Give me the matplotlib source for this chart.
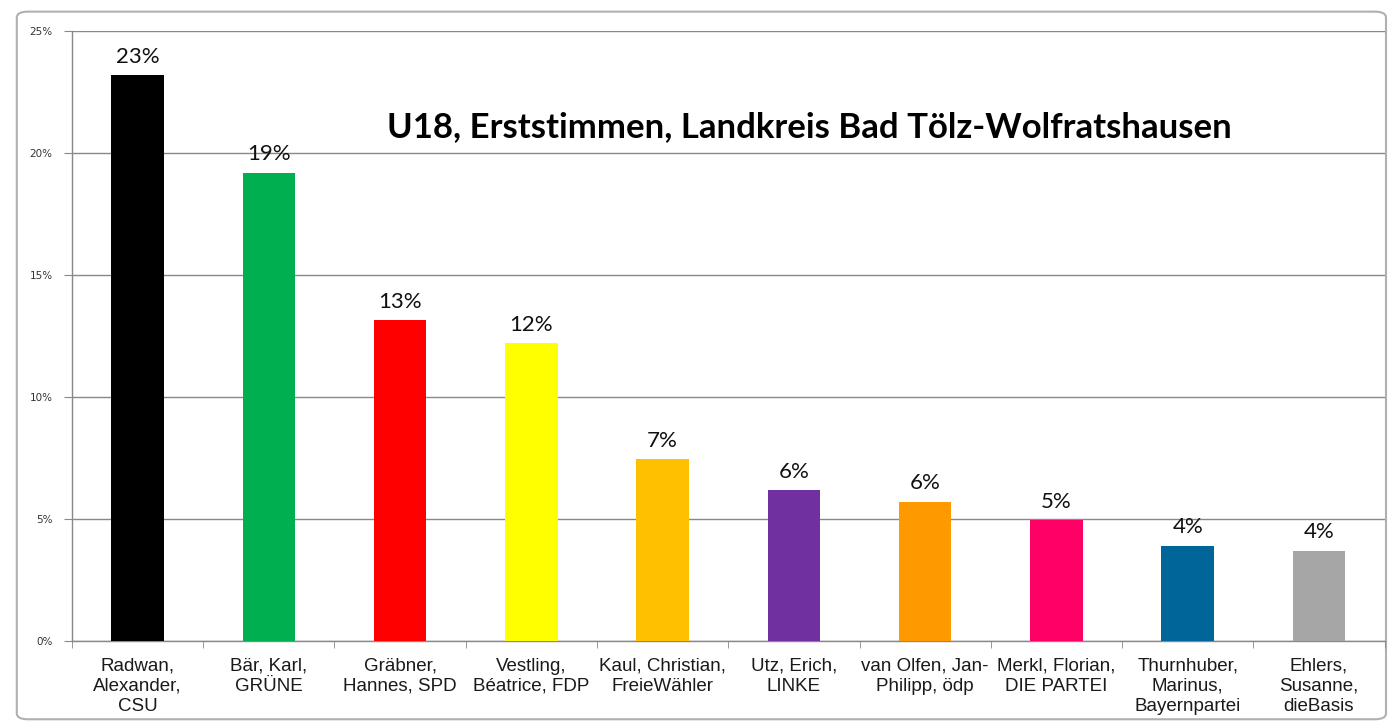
import matplotlib
matplotlib.use("Agg")

import matplotlib.pyplot as plt
import numpy as np
from matplotlib.patches import FancyBboxPatch
from matplotlib.ticker import FuncFormatter, FixedLocator

candidates = [
    "Radwan,\nAlexander,\nCSU",
    "Bär, Karl,\nGRÜNE",
    "Gräbner,\nHannes, SPD",
    "Vestling,\nBéatrice, FDP",
    "Kaul, Christian,\nFreieWähler",
    "Utz, Erich,\nLINKE",
    "van Olfen, Jan-\nPhilipp, ödp",
    "Merkl, Florian,\nDIE PARTEI",
    "Thurnhuber,\nMarinus,\nBayernpartei",
    "Ehlers,\nSusanne,\ndieBasis",
]
shares = [0.232, 0.192, 0.1315, 0.122, 0.0746, 0.0619, 0.057, 0.0496, 0.039, 0.0369]
colors = ["#000000", "#00b050", "#ff0000", "#ffff00", "#ffc000",
          "#7030a0", "#ff9900", "#ff0066", "#006699", "#a6a6a6"]
title = "U18, Erststimmen, Landkreis Bad Tölz-Wolfratshausen"

fig = plt.figure(figsize=(14, 7.28), dpi=100, facecolor="white")

# chart frame like the spreadsheet chart object
frame = FancyBboxPatch((0.012, 0.012), 0.978, 0.972,
                       boxstyle="round,pad=0,rounding_size=0.008",
                       transform=fig.transFigure, facecolor="white",
                       edgecolor="#b0b0b0", linewidth=1.5, zorder=-5)
fig.patches.append(frame)

ax = fig.add_axes([0.0514, 0.1195, 0.9376, 0.8375])
ax.set_facecolor("none")

x = np.arange(len(candidates))
ax.bar(x, shares, width=0.4, color=colors, zorder=3)

for xi, v in zip(x, shares):
    ax.text(xi, v + 0.0035, f"{round(v * 100):.0f}%", ha="center", va="bottom",
            fontsize=16, family="Lato", color="#111111")

ax.set_xlim(-0.5, len(candidates) - 0.5)
ax.set_ylim(0, 0.25)
ax.set_yticks(np.arange(0, 0.26, 0.05))
ax.yaxis.set_major_formatter(FuncFormatter(lambda v, p: f"{v * 100:.0f}%"))
ax.grid(axis="y", color="#888888", linewidth=1, zorder=0)

ax.set_xticks(x)
ax.set_xticklabels(candidates, fontsize=13.5, family="Liberation Sans",
                   color="#1a1a1a", linespacing=1.25)
ax.xaxis.set_minor_locator(FixedLocator(np.arange(-0.5, len(candidates), 1)))
ax.tick_params(axis="x", which="major", length=0, pad=12)
ax.tick_params(axis="x", which="minor", length=5, color="#888888")
ax.tick_params(axis="y", length=6, color="#888888", labelsize=7.5,
               labelcolor="#333333", pad=8)

for s in ["top", "right"]:
    ax.spines[s].set_visible(False)
for s in ["left", "bottom"]:
    ax.spines[s].set_color("#888888")
    ax.spines[s].set_linewidth(1)

fig.text(0.578, 0.825, title, ha="center", va="center", fontsize=25,
         fontweight="bold", family="Lato", color="#000000")

fig.savefig("out.png", dpi=100, facecolor="white")
